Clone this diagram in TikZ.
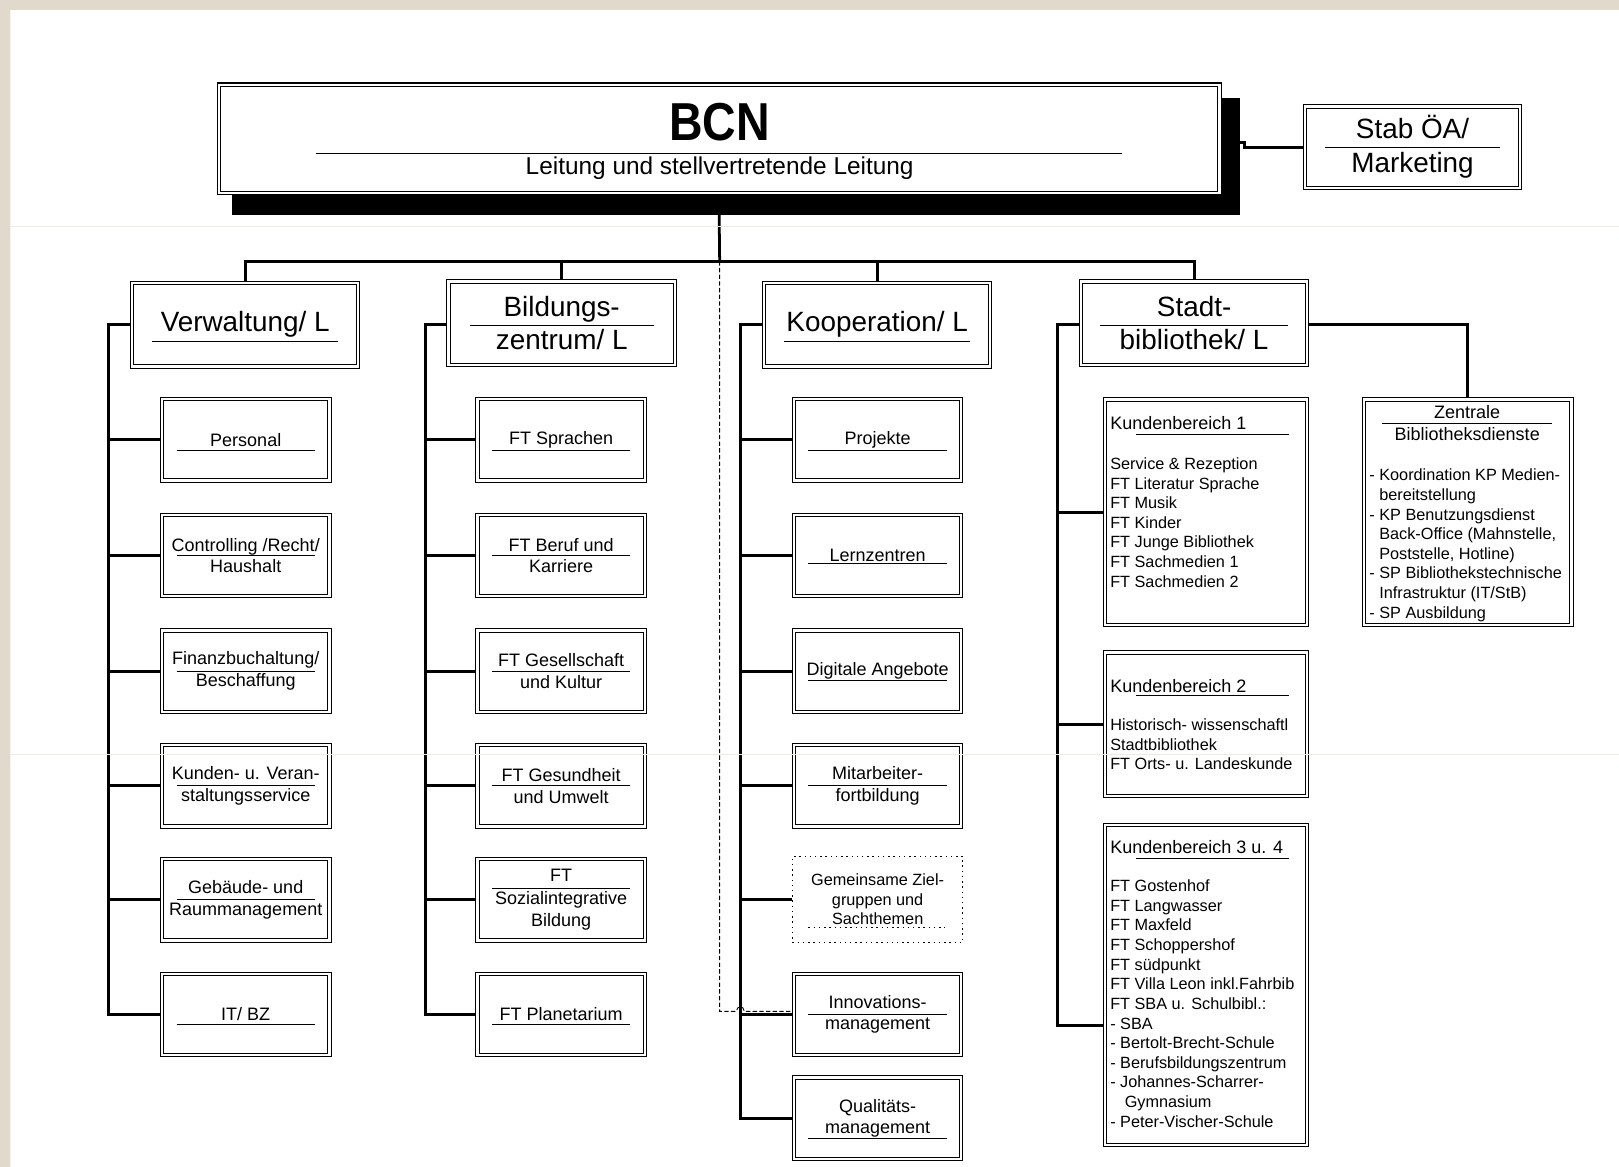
\documentclass[tikz,border=0pt]{standalone}
\usepackage{fontspec}
\usepackage{graphicx}
\setmainfont{Liberation Sans}
\usetikzlibrary{backgrounds}

\newcommand{\pxu}{0.025cm}
\newcommand{\sepline}[4]{\draw[sepl] ([shift={(#3,#2)}]#1.center) -- ([shift={(#4,#2)}]#1.center);}
\definecolor{paper}{RGB}{224,217,204}
\definecolor{crease}{RGB}{238,233,226}

\tikzset{
	conn/.style={line width=1.9pt},
	sepl/.style={line width=0.6pt},
	dbox/.style={draw, double, double distance=1.6pt, line width=0.7pt, fill=white, inner sep=0pt, align=center},
	hbox/.style={dbox, minimum width=219*\pxu, minimum height=81*\pxu, font=\fontsize{19.2}{22.8}\selectfont},
	ubox/.style={dbox, minimum width=162*\pxu, minimum height=79*\pxu, font=\fontsize{12.4}{14.9}\selectfont},
	gbox/.style={draw, line width=0.9pt, dash pattern=on 1pt off 2.6pt, fill=white, inner sep=0pt, align=center,
		minimum width=165*\pxu, minimum height=83*\pxu, font=\fontsize{11.2}{13.2}\selectfont},
	kbbox/.style={dbox, minimum width=196*\pxu},
	kbhead/.style={anchor=west, inner sep=0pt, font=\fontsize{12.4}{14.9}\selectfont},
	kblist/.style={anchor=north west, inner sep=0pt, align=left, font=\fontsize{11.2}{13.5}\selectfont},
	dashline/.style={line width=0.6pt, dash pattern=on 3pt off 1.6pt}
}

\begin{document}
\begin{tikzpicture}[x=0.025cm,y=-0.025cm]
\useasboundingbox (0,0) rectangle (1568,1130);
\begin{scope}[on background layer]
\fill[white] (0,0) rectangle (1568,1130);
\fill[paper] (0,0) rectangle (1568,9.5) (0,0) rectangle (10,1130);
\end{scope}

\node[fill=black, inner sep=0pt, minimum width=976*\pxu, minimum height=113*\pxu] (shad) at (713,151.5) {};
\node[dbox, minimum width=969*\pxu, minimum height=105*\pxu] (bcn) at (696.5,134.5) {};
\node[inner sep=0pt, font=\fontsize{36.8}{40}\selectfont\bfseries] (bcnt) at (697,118) {\scalebox{0.87}[1]{BCN}};
\node[inner sep=0pt, font=\fontsize{16.8}{20}\selectfont] (bcnsub) at (697,163) {Leitung und stellvertretende Leitung};
\sepline{bcn}{14.5}{-390.5}{390.5}

\node[dbox, minimum width=208*\pxu, minimum height=79*\pxu, font=\fontsize{19.2}{23.5}\selectfont] (stab) at (1368,142.5) {Stab ÖA/\\Marketing};
\sepline{stab}{0.5}{-85}{85}

\node[hbox] (verw) at (237.5,314.5) {Verwaltung/ L};
\node[hbox] (bild) at (544,313) {Bildungs-\\zentrum/ L};
\node[hbox] (koop) at (849.5,314.5) {Kooperation/ L};
\node[hbox] (stadt) at (1156.5,313) {Stadt-\\bibliothek/ L};
\sepline{verw}{16}{-90}{90}
\sepline{bild}{2}{-89}{89}
\sepline{koop}{16}{-90}{90}
\sepline{stadt}{2}{-91}{91}

\node[ubox] (pers) at (238,426) {Personal};
\node[ubox] (ctrl) at (238,538) {Controlling /Recht/\\Haushalt};
\node[ubox] (fin) at (238,650) {Finanzbuchaltung/\\Beschaffung};
\node[ubox] (kvs) at (238,761) {Kunden- u. Veran-\\staltungsservice};
\node[ubox] (geb) at (238,871.5) {Gebäude- und\\Raummanagement};
\node[ubox] (itbz) at (238,982.5) {IT/ BZ};
\sepline{pers}{10}{-67}{67}
\sepline{ctrl}{0}{-67}{67}
\sepline{fin}{0}{-67}{67}
\sepline{kvs}{0}{-67}{67}
\sepline{geb}{0}{-67}{67}
\sepline{itbz}{10}{-67}{67}

\node[ubox] (spr) at (543.5,426) {FT Sprachen};
\node[ubox] (beruf) at (543.5,538) {FT Beruf und\\Karriere};
\node[ubox] (gesk) at (543.5,650) {FT Gesellschaft\\und Kultur};
\node[ubox] (gesu) at (543.5,761) {FT Gesundheit\\und Umwelt};
\node[ubox, font=\fontsize{12.4}{15.6}\selectfont] (sozi) at (543.5,871.5) {FT\\Sozialintegrative\\Bildung};
\node[ubox] (plan) at (543.5,982.5) {FT Planetarium};
\sepline{spr}{10}{-67}{67}
\sepline{beruf}{0}{-67}{67}
\sepline{gesk}{0}{-67}{67}
\sepline{gesu}{0}{-67}{67}
\sepline{sozi}{-11}{-67}{67}
\sepline{plan}{10}{-67}{67}

\node[ubox] (proj) at (850,426) {Projekte};
\node[ubox] (lern) at (850,538) {Lernzentren};
\node[ubox] (digi) at (850,650) {Digitale Angebote};
\node[ubox] (mitar) at (850,761) {Mitarbeiter-\\fortbildung};
\node[gbox] (gem) at (850,871) {Gemeinsame Ziel-\\gruppen und\\Sachthemen};
\node[ubox] (innov) at (850,982.5) {Innovations-\\management};
\node[ubox] (qual) at (850,1083) {Qualitäts-\\management};
\sepline{proj}{10}{-67}{67}
\sepline{lern}{8}{-67}{67}
\sepline{digi}{9}{-67}{67}
\sepline{mitar}{0}{-67}{67}
\draw[sepl, dash pattern=on 1pt off 2.6pt] ([shift={(-67,27)}]gem.center) -- ([shift={(65,27)}]gem.center);
\sepline{innov}{0}{-67}{67}
\sepline{qual}{20}{-67}{67}

\node[kbbox, minimum height=218*\pxu] (kb1) at (1168,496) {};
\node[kbhead] (kb1h) at (1075,410) {Kundenbereich 1};
\node[kblist] (kb1l) at (1075,443) {Service \& Rezeption\\FT Literatur Sprache\\FT Musik\\FT Kinder\\FT Junge Bibliothek\\FT Sachmedien 1\\FT Sachmedien 2};
\sepline{kb1}{-75}{-68}{80}

\node[kbbox, minimum height=139*\pxu] (kb2) at (1168,701.5) {};
\node[kbhead] (kb2h) at (1075,664) {Kundenbereich 2};
\node[kblist] (kb2l) at (1075,696) {Historisch- wissenschaftl\\Stadtbibliothek\\FT Orts- u. Landeskunde};
\sepline{kb2}{-27.5}{-68}{80}

\node[kbbox, minimum height=310*\pxu] (kb3) at (1168,954) {};
\node[kbhead] (kb3h) at (1075,820) {Kundenbereich 3 u. 4};
\node[kblist] (kb3l) at (1075,852) {FT Gostenhof\\FT Langwasser\\FT Maxfeld\\FT Schoppershof\\FT südpunkt\\FT Villa Leon inkl.Fahrbib\\FT SBA u. Schulbibl.:\\- SBA\\- Bertolt-Brecht-Schule\\- Berufsbildungszentrum\\- Johannes-Scharrer-\\\hspace*{10pt}Gymnasium\\- Peter-Vischer-Schule};
\sepline{kb3}{-123}{-68}{80}

\node[dbox, minimum width=201*\pxu, minimum height=218*\pxu] (zbd) at (1421.5,496) {};
\node[inner sep=0pt, align=center, font=\fontsize{12.4}{14.9}\selectfont] (zbdh) at (1421,409.5) {Zentrale\\Bibliotheksdienste};
\node[kblist] (zbdl) at (1326,454) {- Koordination KP Medien-\\\hspace*{6.8pt}bereitstellung\\- KP Benutzungsdienst\\\hspace*{6.8pt}Back-Office (Mahnstelle,\\\hspace*{6.8pt}Poststelle, Hotline)\\- SP Bibliothekstechnische\\\hspace*{6.8pt}Infrastruktur (IT/StB)\\- SP Ausbildung};
\sepline{zbd}{-86}{-83.5}{81.5}

\begin{scope}[on background layer]
\coordinate (bus) at (697,253);
\coordinate (vbar) at (105,0);
\coordinate (bbar) at (412,0);
\coordinate (kbar) at (717,0);
\coordinate (sbar) at (1024,0);
\coordinate (kb3in) at ([shift={(0,39)}]kb3.west);
\coordinate (dashy) at ([shift={(0,-3)}]innov.west);

\draw[conn] (bcn.south |- shad.south) -- (bus);
\draw[conn] (verw.north) |- (bus) -| (stadt.north);
\draw[conn] (bild.north) -- (bild.north |- bus);
\draw[conn] (koop.north) -- (koop.north |- bus);
\draw[conn] ([shift={(0,-13.5)}]shad.east) -- ++(4,0) |- (stab.west);
\draw[conn] ([shift={(0,1.5)}]stadt.east) -| (zbd.north);

\draw[conn] (verw.west) -- (verw.west -| vbar) -- (itbz.west -| vbar) -- (itbz.west);
\foreach \n in {pers,ctrl,fin,kvs,geb}
	\draw[conn] (\n.west) -- (\n.west -| vbar);
\draw[conn] ([shift={(0,1.5)}]bild.west) -- ([shift={(0,1.5)}]bild.west -| bbar) -- (plan.west -| bbar) -- (plan.west);
\foreach \n in {spr,beruf,gesk,gesu,sozi}
	\draw[conn] (\n.west) -- (\n.west -| bbar);
\draw[conn] (koop.west) -- (koop.west -| kbar) -- (qual.west -| kbar) -- (qual.west);
\foreach \n in {proj,lern,digi,mitar,gem,innov}
	\draw[conn] (\n.west) -- (\n.west -| kbar);
\draw[conn] ([shift={(0,1.5)}]stadt.west) -- ([shift={(0,1.5)}]stadt.west -| sbar) -- (kb3in -| sbar) -- (kb3in);
\foreach \n in {kb1,kb2}
	\draw[conn] (\n.west) -- (\n.west -| sbar);

\draw[dashline] (bus) -- (bus |- dashy) -- ([shift={(-4,0)}]dashy -| kbar) .. controls +(1,-6) and +(-1,-6) .. ++(8,0) -- (dashy);
\end{scope}

\draw[crease, line width=0.5pt] (10,219) -- (1568,219) (10,731) -- (1568,731);
\end{tikzpicture}
\end{document}
